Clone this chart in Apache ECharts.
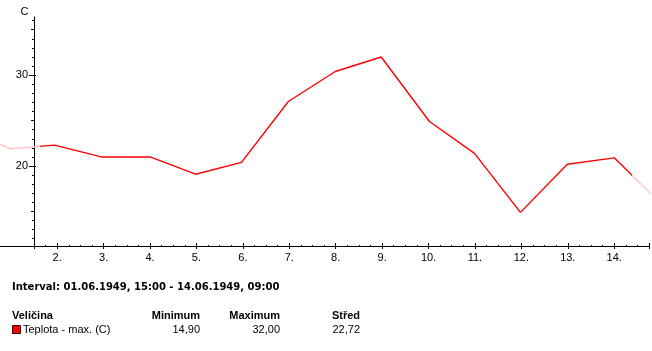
<!DOCTYPE html>
<html>
<head>
<meta charset="utf-8">
<script src="https://cdn.jsdelivr.net/npm/echarts@6/dist/echarts.min.js"></script>
<style>
html, body { margin: 0; padding: 0; background: #fff; }
#chart { width: 652px; height: 351px; }
</style>
</head>
<body>
<div id="chart"></div>
<script>
// x = day of June 1949 (0 = 31.05. 00:00), y = daily max temperature
var dayPos  = [0, 1, 1.94, 2.95, 4, 4.98, 5.97, 6.98, 7.99, 8.98, 10.02, 10.99, 11.98, 12.99, 14, 15];
var tempMax = [24.0, 21.9, 22.3, 21.0, 21.0, 19.1, 20.4, 27.1, 30.4, 32.0, 24.9, 21.4, 14.9, 20.2, 20.9, 15.9];

// selected interval 01.06. 15:00 - 14.06. 09:00
var intervalFrom = 1.625;
var intervalTo = 14.375;

var yLabelValues = [20, 30];
var yMidTicks = [15, 25, 35];

var intervalText = 'Interval: 01.06.1949, 15:00 - 14.06.1949, 09:00';
var tableHead = ['Veličina', 'Minimum', 'Maximum', 'Střed'];
var seriesName = 'Teplota - max. (C)';
var statValues = ['14,90', '32,00', '22,72'];

var FONT = '"Liberation Sans", Arial, sans-serif';
var colRight = [200, 280, 360];
var RED = '#ff0000';
var PALE = '#ffc4c4';

var chart = echarts.init(document.getElementById('chart'));

var points = dayPos.map(function (d, i) { return [d, tempMax[i]]; });

var graphics = [];
graphics.push({ type: 'text', x: 12, y: 287, style: { text: intervalText, font: 'bold 10px "DejaVu Sans"', fill: '#000', align: 'left', verticalAlign: 'middle' } });
graphics.push({ type: 'text', x: 12, y: 316, style: { text: tableHead[0], font: 'bold 11px ' + FONT, fill: '#000', align: 'left', verticalAlign: 'middle' } });
for (var i = 1; i < tableHead.length; i++) {
  graphics.push({ type: 'text', x: colRight[i - 1], y: 316, style: { text: tableHead[i], font: 'bold 11px ' + FONT, fill: '#000', align: 'right', verticalAlign: 'middle' } });
  graphics.push({ type: 'text', x: colRight[i - 1], y: 330, style: { text: statValues[i - 1], font: '11px ' + FONT, fill: '#000', align: 'right', verticalAlign: 'middle' } });
}
graphics.push({ type: 'rect', shape: { x: 12.5, y: 325.5, width: 8, height: 8 }, style: { fill: RED, stroke: '#400000', lineWidth: 1 } });
graphics.push({ type: 'text', x: 23, y: 330, style: { text: seriesName, font: '11px ' + FONT, fill: '#000', align: 'left', verticalAlign: 'middle' } });

var black = { color: '#000', width: 1 };
var yMin = 11.2, yMax = 36.4;

chart.setOption({
  animation: false,
  grid: [
    { left: 34, right: 0, top: 17, bottom: 105 },
    { left: 0, width: 34, top: 17, bottom: 105 }
  ],
  xAxis: [
    {
      type: 'value', gridIndex: 0, position: 'bottom',
      min: 1.5, max: 14.75, minInterval: 1, maxInterval: 1,
      axisLine: { lineStyle: black },
      axisTick: { length: 3, lineStyle: black },
      minorTick: { show: true, splitNumber: 4, length: 1, lineStyle: black },
      axisLabel: {
        margin: 6, color: '#000', fontFamily: FONT, fontSize: 11,
        formatter: function (v) { return (Number.isInteger(v) && v >= 2) ? v + '.' : ''; }
      },
      splitLine: { show: false }
    },
    {
      type: 'value', gridIndex: 0, position: 'bottom',
      min: 1.5, max: 14.75, minInterval: 1, maxInterval: 1,
      axisLine: { show: false },
      axisTick: { inside: true, length: 3, lineStyle: black },
      minorTick: { show: true, splitNumber: 4, length: 1, lineStyle: black },
      axisLabel: { show: false },
      splitLine: { show: false }
    },
    {
      // strip left of the value axis: same time scale, 34 px = 0.729 day
      type: 'value', gridIndex: 1, position: 'bottom', min: 1.5 - 34 / 46.64, max: 1.5,
      axisLine: { lineStyle: black },
      axisTick: { show: false }, axisLabel: { show: false }, splitLine: { show: false }
    }
  ],
  yAxis: [
    {
      type: 'value', gridIndex: 0, position: 'left',
      min: yMin, max: yMax, minInterval: 5, maxInterval: 5,
      name: 'C', nameLocation: 'end', nameGap: 0,
      nameTextStyle: { color: '#000', fontFamily: FONT, fontSize: 11, align: 'center', padding: [0, 19, 0, 0] },
      axisLine: { show: true, lineStyle: black },
      axisTick: { show: true, customValues: yMidTicks, length: 3, lineStyle: black },
      minorTick: { show: true, splitNumber: 5, length: 2, lineStyle: black },
      axisLabel: { customValues: yLabelValues, margin: 6, color: '#000', fontFamily: FONT, fontSize: 11 },
      splitLine: { show: false }
    },
    {
      type: 'value', gridIndex: 0, position: 'left',
      min: yMin, max: yMax, minInterval: 5, maxInterval: 5,
      axisLine: { show: false },
      axisTick: { show: true, customValues: yLabelValues, length: 5, lineStyle: black },
      axisLabel: { show: false }, splitLine: { show: false }
    },
    {
      type: 'value', gridIndex: 0, position: 'left',
      min: yMin, max: yMax, minInterval: 5, maxInterval: 5,
      axisLine: { show: false },
      axisTick: { show: true, inside: true, customValues: yLabelValues, length: 2, lineStyle: black },
      axisLabel: { show: false }, splitLine: { show: false }
    },
    { type: 'value', gridIndex: 1, min: yMin, max: yMax, show: false }
  ],
  visualMap: {
    type: 'piecewise', show: false, dimension: 0, seriesIndex: 0,
    pieces: [
      { lt: intervalFrom, color: PALE },
      { gte: intervalFrom, lte: intervalTo, color: RED },
      { gt: intervalTo, color: PALE }
    ]
  },
  series: [{
    name: seriesName,
    type: 'line',
    xAxisIndex: 0, yAxisIndex: 0,
    data: points,
    showSymbol: false,
    color: RED,
    lineStyle: { width: 1.4 }
  }, {
    name: seriesName + ' (mimo interval)',
    type: 'line',
    xAxisIndex: 2, yAxisIndex: 3,
    data: points,
    showSymbol: false,
    color: PALE,
    lineStyle: { width: 1.4, color: PALE }
  }],
  graphic: graphics
});
</script>
</body>
</html>
